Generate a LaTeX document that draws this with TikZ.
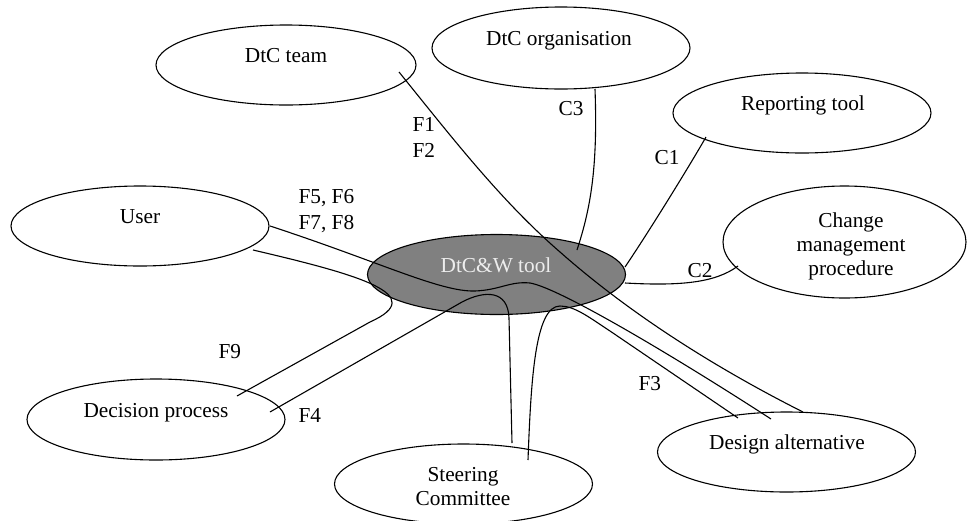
\documentclass[tikz,border=0pt]{standalone}
\usepackage{fontspec}
\setmainfont{Liberation Serif}
\usetikzlibrary{shapes.geometric}
\begin{document}
\begin{tikzpicture}[x=1pt,y=-1pt,line width=1.1pt,
  oval/.style={ellipse,draw=black,fill=white,inner sep=0pt,minimum width=258pt,minimum height=80pt},
  txt/.style={font=\fontsize{21.3}{24}\selectfont,inner sep=0pt,anchor=base,align=center},
  lab/.style={font=\fontsize{21.3}{26}\selectfont,inner sep=0pt,anchor=base west,align=left},
  conn/.style={draw=black,line width=1.1pt}]
\useasboundingbox (0,0) rectangle (970,520);
% ellipses
\node[oval,minimum width=260pt] (team) at (286,65) {};
\node[oval,minimum height=82pt] (org) at (561,48) {};
\node[oval] (rep) at (802,113) {};
\node[oval,minimum width=243pt,minimum height=112pt] (chg) at (844.5,242) {};
\node[oval] (user) at (140,226) {};
\node[oval,fill=gray] (tool) at (496.5,274.5) {};
\node[oval,minimum height=81pt] (dp) at (156,419.5) {};
\node[oval] (sc) at (463.5,484) {};
\node[oval] (da) at (786.5,452) {};
% connector end points
\coordinate (teamE) at (399,72);
\coordinate (orgE) at (595,89);
\coordinate (repE) at (706,137);
\coordinate (chgE) at (738,266);
\coordinate (userE1) at (270,226);
\coordinate (userE2) at (253,250);
\coordinate (dpE1) at (237,396);
\coordinate (dpE2) at (270,412);
\coordinate (scE1) at (512,443);
\coordinate (scE2) at (528,460);
\coordinate (daE1) at (803,412);
\coordinate (daE2) at (771,419);
\coordinate (daE3) at (738,418);
\coordinate (toolC3) at (577,250);
\coordinate (toolC1) at (625,267);
\coordinate (toolC2) at (625,283);
% connectors
\draw[conn] (teamE) .. controls (450,135) and (500,200) .. (560,252)
  .. controls (620,305) and (700,360) .. (daE1);
\draw[conn] (orgE) .. controls (598,170) and (590,210) .. (toolC3);
\draw[conn] (repE) .. controls (690,165) and (650,230) .. (toolC1);
\draw[conn] (toolC2) .. controls (680,286) and (715,283) .. (chgE);
\draw[conn] (userE1) .. controls (380,262) and (440,292) .. (475,291)
  .. controls (500,290) and (510,281) .. (530,283)
  .. controls (560,288) and (680,360) .. (daE2);
\draw[conn] (userE2) .. controls (360,275) and (430,295) .. (370,322) -- (dpE1);
\draw[conn] (dpE2) -- (462,302) .. controls (485,290) and (508,290) .. (509,318) -- (scE1);
\draw[conn] (scE2) .. controls (531,380) and (535,306) .. (560,306)
  .. controls (575,306) and (590,318) .. (610,331) -- (daE3);
% ellipse texts
\node[txt] (team-t) at (286,62) {DtC team};
\node[txt] (org-t) at (559,45) {DtC organisation};
\node[txt] (rep-t) at (803,110) {Reporting tool};
\node[txt] (chg-t) at (851,275) {Change\\management\\procedure};
\node[txt] (user-t) at (140,223) {User};
\node[txt,text=white!93!black] (tool-t) at (496,272) {DtC\&W tool};
\node[txt] (dp-t) at (156,417) {Decision process};
\node[txt] (sc-t) at (463,505) {Steering\\Committee};
\node[txt] (da-t) at (787,449) {Design alternative};
% connector labels
\node[lab] (f12) at (412,157) {F1\\F2};
\node[lab] (f58) at (298,229) {F5, F6\\F7, F8};
\node[lab] (c3) at (558,115) {C3};
\node[lab] (c1) at (654,164) {C1};
\node[lab] (c2) at (687,277) {C2};
\node[lab] (f9) at (218,358) {F9};
\node[lab] (f4) at (298,422) {F4};
\node[lab] (f3) at (638,390) {F3};
\end{tikzpicture}
\end{document}
